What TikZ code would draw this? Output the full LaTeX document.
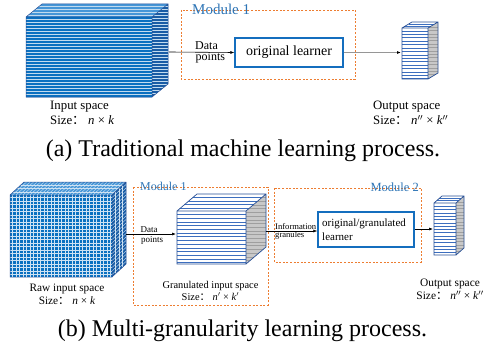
\documentclass[tikz,border=0pt]{standalone}
\usepackage{fontspec}
\setmainfont{Liberation Serif}
\newfontfamily\cjk{Noto Sans CJK SC}
\usetikzlibrary{arrows.meta}
\definecolor{cubeblue}{RGB}{10,112,192}
\definecolor{cubetop}{RGB}{70,150,215}
\definecolor{cubeside}{RGB}{25,92,165}
\definecolor{cubeedge}{RGB}{40,80,150}
\definecolor{stripe}{RGB}{60,110,190}
\definecolor{modorange}{RGB}{237,125,49}
\definecolor{modblue}{RGB}{46,117,182}
\definecolor{boxblue}{RGB}{20,110,190}
\definecolor{sidegrey}{RGB}{200,200,200}
\definecolor{linkgrey}{RGB}{150,150,150}
\newcommand{\fwcolon}{{\cjk ：}}
\begin{document}
\begin{tikzpicture}[x=1pt,y=-1pt,
  lbl/.style={inner sep=0pt,anchor=base west},
  clbl/.style={inner sep=0pt,anchor=base},
  modframe/.style={draw=modorange,line width=0.9pt,dash pattern=on 2pt off 1.6pt},
  modlabel/.style={inner sep=0pt,text=modblue},
  learner/.style={draw=boxblue,line width=1.3pt,fill=white,inner sep=0pt},
  link/.style={line width=0.6pt,-{Latex[length=4pt,width=3pt]}},
  edge/.style={draw=cubeedge,line width=0.5pt},
  wline/.style={white!75!cubeblue,line width=0.7pt},
  gridline/.style={white!80!cubeblue,line width=0.45pt},
  sline/.style={stripe,line width=0.6pt},
  gline/.style={gray!75,line width=0.4pt}
]
\useasboundingbox (0,0) rectangle (494,345);

% ---------- (a) input cube with horizontal layers ----------
\fill[cubeblue] (26,17) rectangle (152,97);
\begin{scope}
  \clip (26,17) rectangle (152,97);
  \foreach \y in {19,22,...,97} \draw[wline] (26,\y) -- (152,\y);
\end{scope}
\fill[cubetop] (26,17) -- (42,4) -- (168,4) -- (152,17) -- cycle;
\begin{scope}
  \clip (26,17) -- (42,4) -- (168,4) -- (152,17) -- cycle;
  \foreach \y in {6.5,9.5,12.5,15.5} \draw[wline] (20,\y) -- (170,\y);
\end{scope}
\fill[cubeside] (152,17) -- (168,4) -- (168,84) -- (152,97) -- cycle;
\begin{scope}
  \clip (152,17) -- (168,4) -- (168,84) -- (152,97) -- cycle;
  \foreach \y in {6,9,...,97} \draw[wline] (150,\y) -- (170,\y);
\end{scope}
\draw[edge] (26,17) rectangle (152,97) (26,17) -- (42,4) -- (168,4) -- (168,84) -- (152,97) (152,17) -- (168,4);
\coordinate (inA) at (169,52);

\node[lbl,font=\fontsize{12.8}{14}\selectfont] at (50,109.8) {Input space};
\node[lbl,font=\fontsize{12.8}{14}\selectfont] at (50,124.2) {Size\fwcolon{} \textit{n} × \textit{k}};

% ---------- (a) module 1 ----------
\draw[modframe] (181,10) rectangle (355,79);
\node[modlabel,anchor=base west,font=\fontsize{15}{16}\selectfont] at (192,14.5) {Module 1};
\node[learner,minimum width=108pt,minimum height=29pt,font=\fontsize{14}{15}\selectfont] (learnA) at (289,52.5) {original learner};
\node[lbl,font=\fontsize{12}{13}\selectfont] at (195,49) {Data};
\node[lbl,font=\fontsize{12}{13}\selectfont] at (195.5,60.5) {points};
\draw[link] (inA) -- (learnA.west);

% ---------- (a) output cuboid ----------
\fill[white] (402,28) rectangle (428,79);
\begin{scope}
  \clip (402,28) rectangle (428,79);
  \foreach \y in {31,34.4,...,79} \draw[sline] (402,\y) -- (428,\y);
\end{scope}
\fill[white] (402,28) -- (412,22) -- (438,22) -- (428,28) -- cycle;
\draw[sline] (405,26) -- (431,26) (408.5,24) -- (434.5,24);
\fill[sidegrey] (428,28) -- (438,22) -- (438,73) -- (428,79) -- cycle;
\begin{scope}
  \clip (428,28) -- (438,22) -- (438,73) -- (428,79) -- cycle;
  \foreach \y in {27,30.4,...,79} \draw[gline] (427,\y) -- (439,\y);
\end{scope}
\draw[edge,line width=0.7pt] (402,28) rectangle (428,79) (402,28) -- (412,22) -- (438,22) -- (438,73) -- (428,79) (428,28) -- (438,22);
\coordinate (outA) at (401,52.5);
\draw[link,linkgrey,line width=1pt,-{Latex[length=4pt,width=3pt,black]}] (learnA.east) -- (outA);

\node[lbl,font=\fontsize{12.8}{14}\selectfont] at (373,109.2) {Output space};
\node[lbl,font=\fontsize{12.8}{14}\selectfont] at (373,124.6) {Size\fwcolon{} \textit{n}$''$ × \textit{k}$''$};

\node[clbl,font=\fontsize{24}{26}\selectfont] at (243,156.5) {(a) Traditional machine learning process.};

% ---------- (b) raw input cube with a cell grid ----------
\fill[cubeblue] (10,195) rectangle (112,277);
\begin{scope}
  \clip (10,195) rectangle (112,277);
  \foreach \y in {197.5,201,...,277} \draw[gridline] (10,\y) -- (112,\y);
  \foreach \x in {12.5,16,...,112} \draw[gridline] (\x,195) -- (\x,277);
\end{scope}
\fill[cubetop] (10,195) -- (24,182) -- (126,182) -- (112,195) -- cycle;
\begin{scope}
  \clip (10,195) -- (24,182) -- (126,182) -- (112,195) -- cycle;
  \foreach \y in {185,188.5,192} \draw[gridline] (5,\y) -- (130,\y);
  \foreach \x in {12.5,16,...,112} \draw[gridline] (\x,195) -- ++(14,-13);
\end{scope}
\fill[cubeside] (112,195) -- (126,182) -- (126,264) -- (112,277) -- cycle;
\begin{scope}
  \clip (112,195) -- (126,182) -- (126,264) -- (112,277) -- cycle;
  \foreach \x in {115.5,119,122.5} \draw[gridline] (\x,180) -- (\x,280);
  \foreach \y in {197.5,201,...,280} \draw[gridline] (112,\y) -- ++(14,-13);
\end{scope}
\draw[edge] (10,195) rectangle (112,277) (10,195) -- (24,182) -- (126,182) -- (126,264) -- (112,277) (112,195) -- (126,182);
\coordinate (rawB) at (126,234);

\node[clbl,font=\fontsize{11.3}{12}\selectfont] at (67,291.3) {Raw input space};
\node[clbl,font=\fontsize{11.3}{12}\selectfont] at (67,304.2) {Size\fwcolon{} \textit{n} × \textit{k}};

% ---------- (b) module 1: granulated cube ----------
\draw[modframe] (133,187) rectangle (268,305);
\node[modlabel,anchor=base west,font=\fontsize{12}{13}\selectfont] at (140,190) {Module 1};

\fill[white] (177,211) rectangle (246,264);
\begin{scope}
  \clip (177,211) rectangle (246,264);
  \foreach \y in {214.5,218.2,...,264} \draw[sline] (177,\y) -- (246,\y);
\end{scope}
\fill[white] (177,211) -- (197,194) -- (266,194) -- (246,211) -- cycle;
\begin{scope}
  \clip (177,211) -- (197,194) -- (266,194) -- (246,211) -- cycle;
  \foreach \y in {197.5,201,204.5,208} \draw[sline] (170,\y) -- (270,\y);
\end{scope}
\fill[sidegrey] (246,211) -- (266,194) -- (266,247) -- (246,264) -- cycle;
\begin{scope}
  \clip (246,211) -- (266,194) -- (266,247) -- (246,264) -- cycle;
  \foreach \y in {197.5,201.2,...,264} \draw[gline] (245,\y) -- (267,\y);
\end{scope}
\draw[edge,line width=0.7pt] (177,211) rectangle (246,264) (177,211) -- (197,194) -- (266,194) -- (266,247) -- (246,264) (246,211) -- (266,194);
\coordinate (granIn) at (176,234);
\coordinate (granOut) at (266,231);

\node[lbl,font=\fontsize{9}{10}\selectfont] at (140.5,232.3) {Data};
\node[lbl,font=\fontsize{9}{10}\selectfont] at (141,242.7) {points};
\draw[link] (rawB) -- (granIn);

\node[clbl,font=\fontsize{10.4}{11}\selectfont] at (210.5,288) {Granulated input space};
\node[clbl,font=\fontsize{10.4}{11}\selectfont] at (210.5,300.2) {Size\fwcolon{} \textit{n}$'$ × \textit{k}$'$};

% ---------- (b) module 2 ----------
\draw[modframe] (274,188) rectangle (421,262);
\node[modlabel,anchor=base east,font=\fontsize{12.5}{13}\selectfont] at (419,191) {Module 2};
\node[learner,minimum width=96pt,minimum height=35pt] (learnB) at (366,229.5) {};
\node[lbl,font=\fontsize{11}{12}\selectfont] at (322,226.7) {original/granulated};
\node[lbl,font=\fontsize{11}{12}\selectfont] at (322,240) {learner};
\node[lbl,font=\fontsize{8.6}{9}\selectfont] at (275,229) {Information};
\node[lbl,font=\fontsize{8.6}{9}\selectfont] at (275,237.7) {granules};
\draw[link] (granOut) -- (granOut -| learnB.west);

% ---------- (b) output cuboid ----------
\fill[white] (434,203) rectangle (456,255);
\begin{scope}
  \clip (434,203) rectangle (456,255);
  \foreach \y in {206.3,209.6,...,255} \draw[sline] (434,\y) -- (456,\y);
\end{scope}
\fill[white] (434,203) -- (442,196) -- (464,196) -- (456,203) -- cycle;
\draw[sline] (436.5,200.7) -- (458.5,200.7) (439,198.4) -- (461,198.4);
\fill[sidegrey] (456,203) -- (464,196) -- (464,248) -- (456,255) -- cycle;
\begin{scope}
  \clip (456,203) -- (464,196) -- (464,248) -- (456,255) -- cycle;
  \foreach \y in {202,205.3,...,255} \draw[gline] (455,\y) -- (465,\y);
\end{scope}
\draw[edge,line width=0.7pt] (434,203) rectangle (456,255) (434,203) -- (442,196) -- (464,196) -- (464,248) -- (456,255) (456,203) -- (464,196);
\coordinate (outB) at (433,229);
\draw[link] (learnB.east |- outB) -- (outB);

\node[clbl,font=\fontsize{11.4}{12}\selectfont] at (450,286) {Output space};
\node[clbl,font=\fontsize{11.4}{12}\selectfont] at (450,299) {Size\fwcolon{} \textit{n}$''$ × \textit{k}$''$};

\node[clbl,font=\fontsize{24}{26}\selectfont] at (242.5,336) {(b) Multi-granularity learning process.};
\end{tikzpicture}
\end{document}
